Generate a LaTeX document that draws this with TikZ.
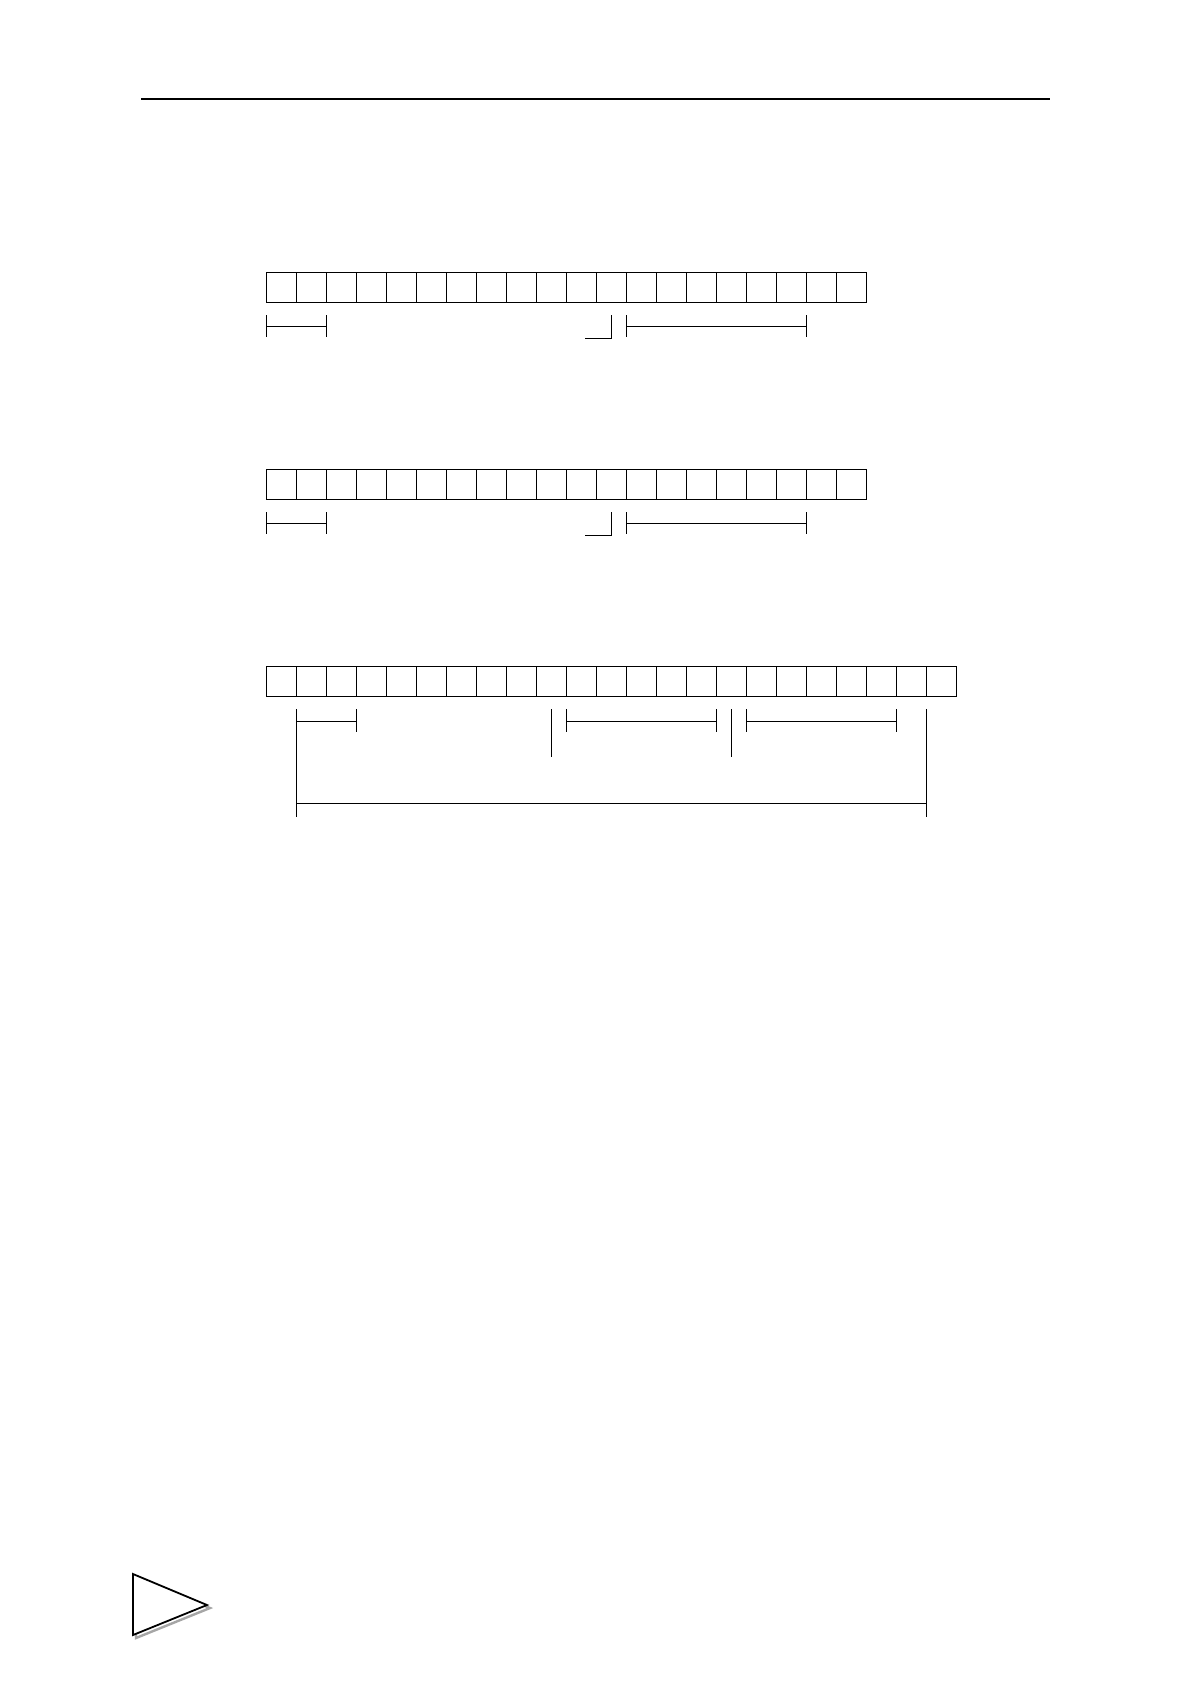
\documentclass[tikz,border=0pt]{standalone}
\tikzset{
	rule/.style={line width=0.5bp},
	cellrow/.style={line width=0.5bp},
}
\begin{document}
\begin{tikzpicture}[x=0.5bp,y=-0.5bp]
		\useasboundingbox (0,0) rectangle (1190,1684);
		\draw[line width=1bp] (141,99) -- (1050,99);
		% first register
		\foreach \i in {0,...,19}
			\draw[cellrow] (266+30*\i,272) rectangle ++(30,30);
		\draw[rule] (266,315) -- (266,337) (326,315) -- (326,337) (266,326) -- (326,326);
		\draw[rule] (585,338) -- (611,338) -- (611,315);
		\draw[rule] (626,315) -- (626,337) (806,315) -- (806,337) (626,326) -- (806,326);
		% second register
		\foreach \i in {0,...,19}
			\draw[cellrow] (266+30*\i,469) rectangle ++(30,30);
		\draw[rule] (266,512) -- (266,534) (326,512) -- (326,534) (266,523) -- (326,523);
		\draw[rule] (585,535) -- (611,535) -- (611,512);
		\draw[rule] (626,512) -- (626,534) (806,512) -- (806,534) (626,523) -- (806,523);
		% third register
		\foreach \i in {0,...,22}
			\draw[cellrow] (266+30*\i,666) rectangle ++(30,30);
		\draw[rule] (296,709) -- (296,817) (356,709) -- (356,732) (296,721) -- (356,721);
		\draw[rule] (551,709) -- (551,757);
		\draw[rule] (566,709) -- (566,732) (716,709) -- (716,732) (566,721) -- (716,721);
		\draw[rule] (731,709) -- (731,757);
		\draw[rule] (746,709) -- (746,732) (896,709) -- (896,732) (746,721) -- (896,721);
		\draw[rule] (926,709) -- (926,817) (296,803) -- (926,803);
		% page mark
		\draw[gray!70,line width=1.2bp] (136,1577) -- (210,1608) -- (136,1638) -- cycle;
		\draw[line width=0.9bp,fill=white] (133,1574) -- (207,1605) -- (133,1635) -- cycle;
	\end{tikzpicture}
\end{document}
